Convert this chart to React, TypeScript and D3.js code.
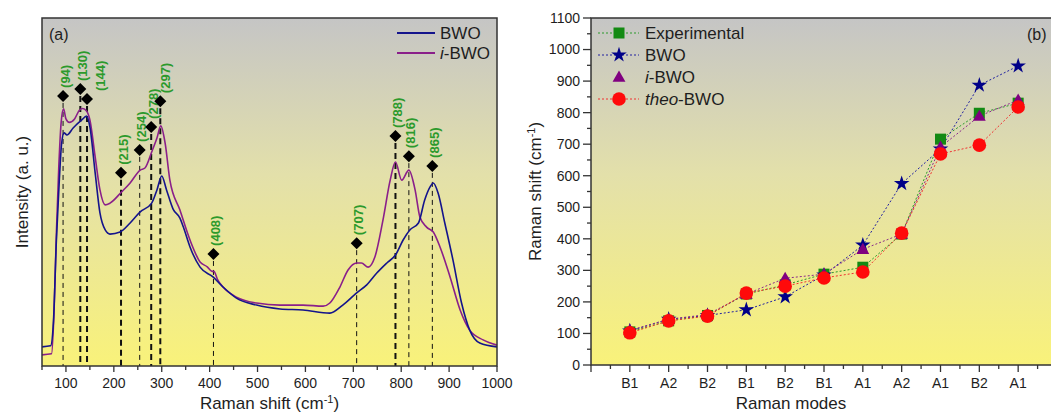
import React from 'react';
import * as d3 from 'd3';

// panel (a): Raman spectra
const bwoShift = [50, 68, 74, 80, 86, 91, 96, 102, 115, 133, 143, 150, 161, 171, 182, 192, 213, 234, 255, 279, 290, 300, 310, 324, 338, 345, 359, 380, 407, 428, 456, 498, 547, 595, 651, 678, 707, 728, 749, 770, 788, 804, 818, 836, 849, 860, 867, 877, 891, 908, 926, 943, 964, 1000];
const bwoIntensity = [0.055, 0.058, 0.13, 0.36, 0.53, 0.64, 0.67, 0.664, 0.684, 0.707, 0.718, 0.687, 0.555, 0.44, 0.391, 0.379, 0.385, 0.411, 0.443, 0.468, 0.506, 0.546, 0.506, 0.45, 0.425, 0.4, 0.342, 0.284, 0.256, 0.227, 0.195, 0.175, 0.164, 0.161, 0.152, 0.175, 0.21, 0.233, 0.267, 0.296, 0.319, 0.362, 0.391, 0.411, 0.477, 0.514, 0.526, 0.497, 0.411, 0.305, 0.181, 0.103, 0.066, 0.055];

const iBwoShift = [50, 70, 75, 80, 85, 90, 95, 100, 107, 118, 128, 135, 143, 150, 161, 171, 182, 192, 216, 234, 255, 265, 279, 290, 298, 307, 317, 338, 359, 380, 395, 405, 409, 416, 428, 456, 498, 547, 595, 637, 651, 672, 689, 707, 717, 731, 745, 762, 777, 788, 801, 816, 829, 839, 853, 867, 881, 902, 923, 943, 971, 1000];
const iBwoIntensity = [0.032, 0.035, 0.15, 0.38, 0.57, 0.7, 0.739, 0.71, 0.7, 0.71, 0.735, 0.74, 0.733, 0.707, 0.601, 0.506, 0.463, 0.468, 0.5, 0.526, 0.563, 0.569, 0.615, 0.655, 0.69, 0.641, 0.534, 0.448, 0.362, 0.299, 0.285, 0.272, 0.272, 0.25, 0.227, 0.198, 0.181, 0.175, 0.175, 0.172, 0.181, 0.227, 0.276, 0.296, 0.296, 0.284, 0.313, 0.42, 0.534, 0.586, 0.534, 0.563, 0.506, 0.428, 0.399, 0.385, 0.342, 0.256, 0.161, 0.103, 0.075, 0.06];

const peakShift = [94, 130, 144, 215, 254, 278, 297, 408, 707, 788, 816, 865];
const peakMarker = [0.776, 0.796, 0.767, 0.555, 0.621, 0.687, 0.761, 0.322, 0.353, 0.661, 0.603, 0.575];

const shiftTicks = [100, 200, 300, 400, 500, 600, 700, 800, 900, 1000];

// panel (b): mode positions
const modes = ['B1', 'A2', 'B2', 'B1', 'B2', 'B1', 'A1', 'A2', 'A1', 'B2', 'A1'];
const experimental = [105, 140, 157, 225, 254, 288, 310, 415, 716, 798, 830];
const bwoModes = [108, 145, 157, 175, 216, 285, 380, 575, 685, 887, 948];
const iBwoModes = [110, 145, 160, 225, 275, 288, 367, 415, 691, 789, 840];
const theoModes = [102, 140, 155, 228, 250, 276, 295, 418, 669, 697, 818];

const modeTicks = d3.range(0, 1101, 100);

const W = 1051, H = 413;
const font = "Arial, 'Liberation Sans', sans-serif";
const ink = '#1e1e1e';
const navy = '#14148c';
const purple = '#8a1f8a';
const labelGreen = '#2c9a2c';

// panel a box
const a = { left: 42, right: 497, top: 18, bottom: 366 };
// panel b box
const b = { left: 591, right: 1057, top: 18, bottom: 365 };

const boldPeaks = new Set([130, 144, 215, 278, 297, 788]);
const labelNudge: Record<number, number> = { 144: 11, 297: 3 };

const xA = d3.scaleLinear().domain([50, 1000]).range([a.left, a.right]);
const yA = d3.scaleLinear().domain([0, 1]).range([a.bottom, a.top]);
const xB = d3.scaleLinear().domain([0, 12]).range([b.left, b.right]);
const yB = d3.scaleLinear().domain([0, 1100]).range([b.bottom, b.top]);

const lineA = d3.line<[number, number]>()
  .x(d => xA(d[0]))
  .y(d => yA(d[1]))
  .curve(d3.curveMonotoneX);

const lineB = d3.line<number>()
  .x((d, i) => xB(i + 1))
  .y(d => yB(d));

const star = d3.symbol().type(d3.symbolStar).size(75)();
const tri = d3.symbol().type(d3.symbolTriangle).size(72)();

const Marker = ({ kind, x, y }: { kind: string; x: number; y: number }) => {
  if (kind === 'square') return <rect x={x - 5.5} y={y - 5.5} width={11} height={11} fill="#138a13" />;
  if (kind === 'star') return <path d={star!} transform={`translate(${x},${y})`} fill="#000088" />;
  if (kind === 'tri') return <path d={tri!} transform={`translate(${x},${y + 1})`} fill="#800080" />;
  return <circle cx={x} cy={y} r={6.8} fill="#ff0a0a" />;
};

const Defs = () => (
  <defs>
    <linearGradient id="bg" x1="0" y1="0" x2="0" y2="1">
      <stop offset="0" stopColor="#c5c5c5" />
      <stop offset="0.45" stopColor="#e3e0aa" />
      <stop offset="1" stopColor="#f9f27a" />
    </linearGradient>
  </defs>
);

const PanelA = () => {
  const bwo = bwoShift.map((s, i) => [s, bwoIntensity[i]] as [number, number]);
  const ibwo = iBwoShift.map((s, i) => [s, iBwoIntensity[i]] as [number, number]);
  const minor = d3.range(50, 1001, 50).filter(v => v % 100 !== 0);
  return (
    <g>
      <rect x={a.left} y={a.top} width={a.right - a.left} height={a.bottom - a.top} fill="url(#bg)" />
      {/* peak guides */}
      {peakShift.map((p, i) => {
        const x = xA(p), y = yA(peakMarker[i]);
        const bold = boldPeaks.has(p);
        return (
          <g key={p}>
            <line x1={x} x2={x} y1={y + 7} y2={a.bottom} stroke="#111" strokeWidth={bold ? 2 : 1}
              strokeDasharray={bold ? '6,4' : '5,4'} />
            <path d={`M${x},${y - 6}L${x + 6},${y}L${x},${y + 6}L${x - 6},${y}Z`} fill="#000" />
            <text transform={`translate(${x + 2 + (labelNudge[p] || 0)},${y - 8}) rotate(-90)`} dy="0.35em"
              fontSize={13} fontWeight="bold" fill={labelGreen} fontFamily={font}>({p})</text>
          </g>
        );
      })}
      <path d={lineA(ibwo)!} fill="none" stroke={purple} strokeWidth={1.6} />
      <path d={lineA(bwo)!} fill="none" stroke={navy} strokeWidth={1.6} />
      <rect x={a.left} y={a.top} width={a.right - a.left} height={a.bottom - a.top} fill="none" stroke="#333" strokeWidth={1.5} />
      {/* x axis */}
      {shiftTicks.map(t => (
        <g key={t}>
          <line x1={xA(t)} x2={xA(t)} y1={a.bottom} y2={a.bottom + 6} stroke="#333" strokeWidth={1.3} />
          <text x={xA(t)} y={388} textAnchor="middle" fontSize={14} fill={ink} fontFamily={font}>{t}</text>
        </g>
      ))}
      {minor.map(t => (
        <line key={t} x1={xA(t)} x2={xA(t)} y1={a.bottom} y2={a.bottom + 4} stroke="#333" strokeWidth={1.3} />
      ))}
      <text x={(a.left + a.right) / 2} y={409} textAnchor="middle" fontSize={17} fill={ink} fontFamily={font}>
        Raman shift (cm<tspan dy={-6} fontSize={11}>-1</tspan><tspan dy={6}>)</tspan>
      </text>
      <text transform={`translate(28,${(a.top + a.bottom) / 2}) rotate(-90)`} textAnchor="middle" fontSize={17}
        fill={ink} fontFamily={font}>Intensity (a. u.)</text>
      <text x={49} y={40} fontSize={16} fill={ink} fontFamily={font}>(a)</text>
      {/* legend */}
      <line x1={397} x2={435} y1={33} y2={33} stroke={navy} strokeWidth={2} />
      <text x={440} y={39} fontSize={17} fill={ink} fontFamily={font}>BWO</text>
      <line x1={397} x2={435} y1={53} y2={53} stroke={purple} strokeWidth={2} />
      <text x={440} y={59} fontSize={17} fill={ink} fontFamily={font}><tspan fontStyle="italic">i</tspan>-BWO</text>
    </g>
  );
};

const PanelB = () => {
  const series = [
    { values: experimental, color: '#2a9a2a', kind: 'square' },
    { values: bwoModes, color: '#2020a0', kind: 'star' },
    { values: iBwoModes, color: '#8a2a8a', kind: 'tri' },
    { values: theoModes, color: '#f03030', kind: 'circle' },
  ];
  const yMinor = d3.range(50, 1100, 100);
  const xMinor = d3.range(0.5, 12, 1);
  const legend = [
    { kind: 'square', color: '#2a9a2a', line: true, text: <tspan>Experimental</tspan> },
    { kind: 'star', color: '#2020a0', line: true, text: <tspan>BWO</tspan> },
    { kind: 'tri', color: '#8a2a8a', line: false, text: <><tspan fontStyle="italic">i</tspan><tspan>-BWO</tspan></> },
    { kind: 'circle', color: '#f03030', line: true, text: <><tspan fontStyle="italic">theo</tspan><tspan>-BWO</tspan></> },
  ];
  return (
    <g>
      <rect x={b.left} y={b.top} width={b.right - b.left} height={b.bottom - b.top} fill="url(#bg)" />
      {series.map(s => (
        <path key={s.kind} d={lineB(s.values)!} fill="none" stroke={s.color} strokeWidth={1} strokeDasharray="2,2" />
      ))}
      {series.map(s => (
        <g key={s.kind}>
          {s.values.map((v, i) => <Marker key={i} kind={s.kind} x={xB(i + 1)} y={yB(v)} />)}
        </g>
      ))}
      <rect x={b.left} y={b.top} width={b.right - b.left} height={b.bottom - b.top} fill="none" stroke="#333" strokeWidth={1.5} />
      {/* y axis */}
      {modeTicks.map(t => (
        <g key={t}>
          <line x1={b.left - 8} x2={b.left} y1={yB(t)} y2={yB(t)} stroke="#333" strokeWidth={1.3} />
          <text x={b.left - 11} y={yB(t)} dy="0.35em" textAnchor="end" fontSize={14} fill={ink} fontFamily={font}>{t}</text>
        </g>
      ))}
      {yMinor.map(t => (
        <line key={t} x1={b.left - 4} x2={b.left} y1={yB(t)} y2={yB(t)} stroke="#333" strokeWidth={1.3} />
      ))}
      {/* x axis */}
      {d3.range(0, 13).map(i => (
        <line key={i} x1={xB(i)} x2={xB(i)} y1={b.bottom} y2={b.bottom + 7} stroke="#333" strokeWidth={1.3} />
      ))}
      {xMinor.map(i => (
        <line key={i} x1={xB(i)} x2={xB(i)} y1={b.bottom} y2={b.bottom + 4} stroke="#333" strokeWidth={1.3} />
      ))}
      {modes.map((m, i) => (
        <text key={i} x={xB(i + 1)} y={388} textAnchor="middle" fontSize={14} fill={ink} fontFamily={font}>{m}</text>
      ))}
      <text x={791} y={409} textAnchor="middle" fontSize={17} fill={ink} fontFamily={font}>Raman modes</text>
      <text transform={`translate(541,${(b.top + b.bottom) / 2}) rotate(-90)`} textAnchor="middle" fontSize={17}
        fill={ink} fontFamily={font}>
        Raman shift (cm<tspan dy={-6} fontSize={11}>-1</tspan><tspan dy={6}>)</tspan>
      </text>
      <text x={1027} y={40} fontSize={16} fill={ink} fontFamily={font}>(b)</text>
      {/* legend */}
      {legend.map((l, i) => {
        const y = 33 + i * 22;
        return (
          <g key={l.kind}>
            {l.line && <line x1={598} x2={639} y1={y} y2={y} stroke={l.color} strokeWidth={1} strokeDasharray="2,2" />}
            <Marker kind={l.kind} x={619} y={y} />
            <text x={645} y={y} dy="0.36em" fontSize={17} fill={ink} fontFamily={font}>{l.text}</text>
          </g>
        );
      })}
    </g>
  );
};

export default function App() {
  return (
    <svg width={W} height={H} style={{ position: 'absolute', left: 0, top: 0, background: '#fff' }}>
      <Defs />
      <PanelA />
      <PanelB />
    </svg>
  );
}
